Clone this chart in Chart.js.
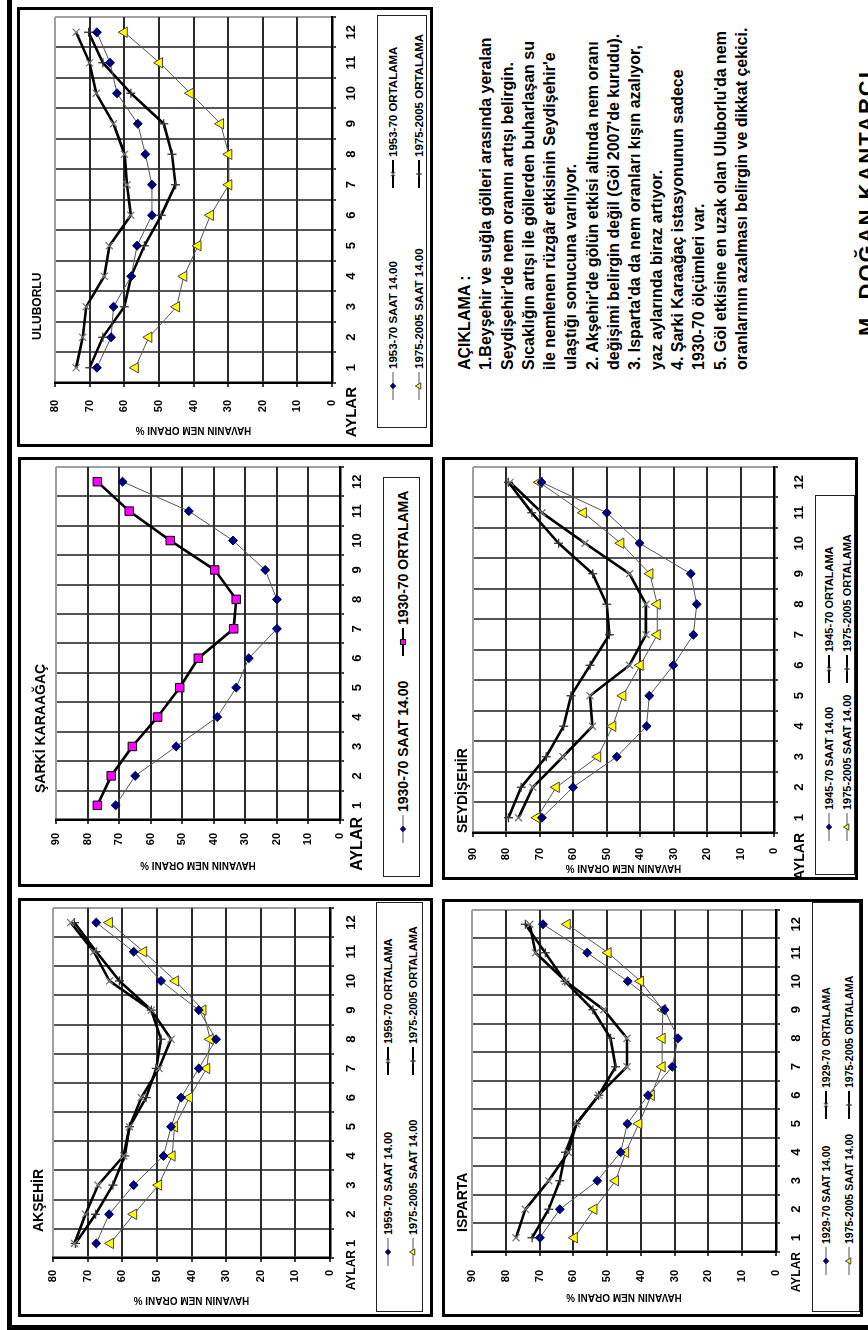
<!DOCTYPE html>
<html lang="tr">
<head>
<meta charset="utf-8">
<title>Havanın nem oranı – göl çevresi istasyonları</title>
<script src="https://cdn.jsdelivr.net/npm/chart.js@4.4.1/dist/chart.umd.min.js"></script>
<style>
  html, body { margin: 0; padding: 0; background: #fff; }
  body { width: 868px; height: 1330px; overflow: hidden; position: relative; }
  /* the sheet is laid out in landscape and turned a quarter turn to the left */
  #page {
    position: absolute; left: 0; top: 0; width: 1330px; height: 868px;
    transform-origin: 0 0; transform: translate(0, 1330px) rotate(-90deg);
    font-family: 'Liberation Sans', Arial, Helvetica, sans-serif; color: #000;
    overflow: hidden; background: #fff;
  }
  .frame { position: absolute; box-sizing: border-box; border-style: solid; border-color: #000;
           border-width: 5px 0 0 5px; }
  .panel { position: absolute; box-sizing: border-box; border: 3px solid #000; background: #fff; }
  canvas.chart { position: absolute; }
  .st { position: absolute; font-weight: bold; white-space: nowrap; line-height: 1; transform: translateY(-50%); }
  .legend { position: absolute; box-sizing: border-box; border: 1px solid #222; background: #fff; }
  .li { position: absolute; display: flex; align-items: center; white-space: nowrap; font-weight: bold; transform: translateY(-50%); }
  .li canvas { display: block; margin-right: 3px; }
  .notes { position: absolute; font-weight: bold; white-space: pre; }
  .sign { position: absolute; font-weight: bold; white-space: nowrap; line-height: 1; }
</style>
</head>
<body>
<div id="page"></div>
<script>
// ---- shared axis text ----
const months = ['1', '2', '3', '4', '5', '6', '7', '8', '9', '10', '11', '12'];
const yAxisTitle = 'HAVANIN NEM ORANI %';
const xAxisName = 'AYLAR';

// ---- Akşehir (relative humidity, %) ----
const aksehirSaat1 = [67.5, 63.8, 56.7, 48.1, 45.9, 43.0, 37.9, 32.9, 37.9, 48.8, 56.7, 67.5];
const aksehirOrt1  = [73.8, 70.6, 67.0, 59.6, 57.9, 54.5, 49.4, 45.9, 51.6, 63.7, 68.2, 74.9];
const aksehirSaat2 = [63.4, 56.7, 49.5, 45.6, 44.9, 40.6, 35.6, 34.6, 36.7, 44.6, 53.8, 63.7];
const aksehirOrt2  = [73.5, 67.7, 62.7, 59.3, 57.9, 53.1, 50.2, 48.8, 51.6, 60.8, 67.5, 73.8];

// ---- Şarki Karaağaç ----
const sarkiSaat = [71.1, 64.9, 51.9, 38.9, 32.9, 28.9, 20.0, 20.0, 23.7, 33.9, 47.9, 68.9];
const sarkiOrt  = [76.9, 72.5, 65.8, 57.8, 50.8, 44.9, 33.7, 32.9, 39.7, 53.8, 66.8, 76.9];

// ---- Uluborlu ----
const uluborluSaat1 = [67.9, 63.8, 63.1, 58.0, 56.3, 52.0, 52.0, 53.9, 56.1, 62.1, 64.1, 67.9];
const uluborluOrt1  = [73.9, 72.0, 71.0, 65.8, 64.3, 58.1, 59.2, 59.9, 63.1, 68.1, 70.0, 73.9];
const uluborluSaat2 = [56.8, 52.9, 44.9, 42.8, 38.7, 35.1, 29.8, 29.8, 32.2, 40.9, 49.8, 60.0];
const uluborluOrt2  = [70.0, 66.2, 60.0, 58.0, 54.2, 49.3, 45.2, 46.2, 48.6, 58.1, 66.2, 70.3];

// ---- Isparta ----
const ispartaSaat1 = [69.9, 64.0, 52.9, 46.0, 44.0, 37.9, 30.7, 29.0, 33.0, 43.9, 55.9, 69.0];
const ispartaOrt1  = [77.0, 74.2, 67.3, 61.5, 59.1, 52.5, 44.1, 44.1, 51.0, 62.3, 71.2, 72.9];
const ispartaSaat2 = [59.7, 53.9, 47.5, 44.5, 40.6, 36.9, 33.7, 33.7, 33.5, 40.1, 49.7, 61.8];
const ispartaOrt2  = [72.2, 67.3, 64.0, 62.3, 59.1, 52.5, 47.5, 49.0, 54.2, 62.5, 68.3, 74.2];

// ---- Seydişehir ----
const seydisehirSaat1 = [69.4, 60.1, 47.0, 38.1, 37.3, 30.1, 24.1, 23.1, 24.9, 40.2, 50.0, 69.5];
const seydisehirOrt1  = [76.4, 72.1, 63.1, 54.3, 55.0, 43.2, 38.3, 38.3, 43.2, 56.5, 69.4, 78.9];
const seydisehirSaat2 = [70.9, 65.1, 52.7, 48.2, 45.2, 40.0, 34.9, 34.9, 37.1, 45.8, 57.0, 70.2];
const seydisehirOrt2  = [79.4, 75.6, 68.1, 62.9, 60.7, 55.0, 49.2, 50.0, 54.2, 64.4, 72.4, 79.4];

// ---- explanatory notes ----
const noteLines = [
  'AÇIKLAMA :',
  '1.Beyşehir ve suğla gölleri arasında yeralan',
  "Seydişehir'de nem oranını artışı belirgin.",
  'Sıcaklığın artışı ile göllerden buharlaşan su',
  "ile nemlenen rüzgâr etkisinin Seydişehir'e",
  'ulaştığı sonucuna varılıyor.',
  "2. Akşehir'de gölün etkisi altında nem oranı",
  "değişimi belirgin değil (Göl 2007'de kurudu).",
  "3. Isparta'da da nem oranları kışın azalıyor,",
  'yaz aylarında biraz artıyor.',
  '4. Şarki Karaağaç istasyonunun sadece',
  '1930-70 ölçümleri var.',
  "5. Göl etkisine en uzak olan Uluborlu'da nem",
  'oranlarının azalması belirgin ve dikkat çekici.'
];
const signature = 'M. DOĞAN KANTARCI';

// ---- series looks ----
const FONT = "'Liberation Sans', Arial, Helvetica, sans-serif";
const looks = {
  diamond:  { borderColor: '#555', borderWidth: 1, pointStyle: 'rectRot', pointRadius: 4.5,
              pointBackgroundColor: '#000080', pointBorderColor: '#000060', pointBorderWidth: 1 },
  xcross:   { borderColor: '#000', borderWidth: 2.6, pointStyle: 'crossRot', pointRadius: 5,
              pointBackgroundColor: '#fff', pointBorderColor: '#777', pointBorderWidth: 1.3 },
  triangle: { borderColor: '#555', borderWidth: 1, pointStyle: 'triangle', pointRadius: 6,
              pointBackgroundColor: '#ffff00', pointBorderColor: '#444', pointBorderWidth: 1 },
  plus:     { borderColor: '#000', borderWidth: 2.6, pointStyle: 'cross', pointRadius: 4.5,
              pointBackgroundColor: '#fff', pointBorderColor: '#333', pointBorderWidth: 1.3 },
  square:   { borderColor: '#000', borderWidth: 2.6, pointStyle: 'rect', pointRadius: 6,
              pointBackgroundColor: '#ff00ff', pointBorderColor: '#000', pointBorderWidth: 1 }
};

// ---- stations: series + where each panel sits on the sheet ----
const stations = [
  { name: 'AKŞEHİR', max: 80,
    series: [
      { label: '1959-70 SAAT 14.00',   data: aksehirSaat1, look: 'diamond' },
      { label: '1959-70 ORTALAMA',     data: aksehirOrt1,  look: 'xcross' },
      { label: '1975-2005 SAAT 14.00', data: aksehirSaat2, look: 'triangle' },
      { label: '1975-2005 ORTALAMA',   data: aksehirOrt2,  look: 'plus' }
    ],
    box: { panel: [13, 18, 432, 433], plot: [72, 53, 422, 330], legend: [18, 376, 428, 423],
           title: [98, 38, 14], yTitleX: 30, yPad: 8, xPad: 10, aylar: [8, 12],
           rows: [11, 36], cols: [59, 250], legendFont: 11 } },
  { name: 'ŞARKİ  KARAAĞAÇ', max: 90,
    series: [
      { label: '1930-70  SAAT 14.00', data: sarkiSaat, look: 'diamond' },
      { label: '1930-70  ORTALAMA',   data: sarkiOrt,  look: 'square' }
    ],
    box: { panel: [443, 18, 873, 433], plot: [510, 56, 865, 340], legend: [453, 383, 853, 420],
           title: [537, 40, 14], yTitleX: 465, yPad: 9, xPad: 6, aylar: [3, 16],
           rows: [19], cols: [47, 234], legendFont: 14 } },
  { name: 'ULUBORLU', max: 80,
    series: [
      { label: '1953-70 SAAT 14.00',   data: uluborluSaat1, look: 'diamond' },
      { label: '1953-70 ORTALAMA',     data: uluborluOrt1,  look: 'xcross' },
      { label: '1975-2005 SAAT 14.00', data: uluborluSaat2, look: 'triangle' },
      { label: '1975-2005 ORTALAMA',   data: uluborluOrt2,  look: 'plus' }
    ],
    box: { panel: [883, 17, 1323, 433], plot: [947, 55, 1317, 332], legend: [902, 377, 1315, 427],
           title: [990, 37, 12], yTitleX: 900, yPad: 13, xPad: 8, aylar: [-4, 15],
           rows: [15, 41], cols: [41, 253], legendFont: 11.5 } },
  { name: 'ISPARTA', max: 90,
    series: [
      { label: '1929-70 SAAT 14.00',   data: ispartaSaat1, look: 'diamond' },
      { label: '1929-70 ORTALAMA',     data: ispartaOrt1,  look: 'xcross' },
      { label: '1975-2005 SAAT 14.00', data: ispartaSaat2, look: 'triangle' },
      { label: '1975-2005 ORTALAMA',   data: ispartaOrt2,  look: 'plus' }
    ],
    box: { panel: [13, 442, 431, 863], plot: [78, 472, 420, 776], legend: [18, 812, 428, 860],
           title: [98, 462, 14], yTitleX: 33, yPad: 14, xPad: 9, aylar: [0, 12],
           rows: [13, 36], cols: [50, 206], legendFont: 10.5 } },
  { name: 'SEYDİŞEHİR', max: 90,
    series: [
      { label: '1945-70 SAAT 14.00',   data: seydisehirSaat1, look: 'diamond' },
      { label: '1945-70 ORTALAMA',     data: seydisehirOrt1,  look: 'xcross' },
      { label: '1975-2005 SAAT 14.00', data: seydisehirSaat2, look: 'triangle' },
      { label: '1975-2005 ORTALAMA',   data: seydisehirOrt2,  look: 'plus' }
    ],
    box: { panel: [450, 442, 873, 858], plot: [497, 473, 867, 774], legend: [455, 815, 835, 855],
           title: [497, 462, 14], yTitleX: 462, yPad: 11, xPad: 14, aylar: [0, 14],
           rows: [13, 31], cols: [47, 205], legendFont: 11 } }
];

Chart.defaults.font.family = FONT;
Chart.defaults.color = '#000';

const page = document.getElementById('page');

function place(el, r) {
  el.style.left = r[0] + 'px';
  el.style.top = r[1] + 'px';
  el.style.width = (r[2] - r[0]) + 'px';
  el.style.height = (r[3] - r[1]) + 'px';
}

// "AYLAR" sits on the month-label row, just left of month 1
const aylarPlugin = {
  id: 'aylar',
  afterDraw(chart, args, opts) {
    const xs = chart.scales.x;
    const ctx = chart.ctx;
    const tickFont = xs.options.ticks.font;
    const y = xs.top + xs.options.grid.tickLength + xs.options.ticks.padding + tickFont.size * 0.62;
    ctx.save();
    ctx.font = 'bold ' + opts.size + 'px ' + FONT;
    ctx.fillStyle = '#000';
    ctx.textAlign = 'right';
    ctx.textBaseline = 'middle';
    ctx.fillText(opts.text, chart.chartArea.left + opts.dx, y);
    ctx.restore();
  }
};

function legendMarker(ds) {
  const c = document.createElement('canvas');
  c.width = 28; c.height = 14;
  const g = c.getContext('2d');
  g.strokeStyle = ds.borderColor;
  g.lineWidth = Math.min(ds.borderWidth, 2);
  g.beginPath(); g.moveTo(0, 7); g.lineTo(28, 7); g.stroke();
  g.fillStyle = ds.pointBackgroundColor;
  g.strokeStyle = ds.pointBorderColor;
  g.lineWidth = ds.pointBorderWidth;
  try {
    Chart.helpers.drawPoint(g, { pointStyle: ds.pointStyle, radius: ds.pointRadius * 0.6,
                                 borderWidth: ds.pointBorderWidth, rotation: 0 }, 14, 7);
  } catch (e) { /* marker is optional */ }
  return c;
}

function drawStation(st) {
  const b = st.box;

  const panel = document.createElement('div');
  panel.className = 'panel';
  place(panel, b.panel);
  page.appendChild(panel);

  // chart canvas: panel interior above the legend
  const cL = b.panel[0] + 3, cT = b.panel[1] + 3, cR = b.panel[2] - 3, cB = b.legend[1] - 2;
  const cv = document.createElement('canvas');
  cv.className = 'chart';
  cv.width = cR - cL; cv.height = cB - cT;
  cv.style.left = cL + 'px'; cv.style.top = cT + 'px';
  cv.style.width = cv.width + 'px'; cv.style.height = cv.height + 'px';
  page.appendChild(cv);

  const yAxisWidth = b.plot[0] - cL;
  const xAxisHeight = cB - b.plot[3];
  const titleSize = 10;
  const titleCenter = b.yTitleX - cL;

  const datasets = st.series.map(s => Object.assign({
    label: s.label, data: s.data, fill: false, tension: 0, pointHoverRadius: 0
  }, looks[s.look]));

  const chart = new Chart(cv, {
    type: 'line',
    data: { labels: months, datasets },
    options: {
      responsive: false, maintainAspectRatio: false, animation: false, devicePixelRatio: 1,
      events: [],
      layout: { padding: { top: b.plot[1] - cT, right: cR - b.plot[2], left: 0, bottom: 0 } },
      plugins: {
        legend: { display: false },
        tooltip: { enabled: false },
        aylar: { text: xAxisName, dx: b.aylar[0], size: b.aylar[1] }
      },
      scales: {
        x: {
          type: 'category', offset: true,
          grid: { offset: true, lineWidth: 2, tickLength: 4, tickColor: '#000', tickWidth: 1.5,
                  color: c => (c.type === 'scale' ? '#a0a0a0' : '#555') },
          border: { color: '#000', width: 2.5 },
          ticks: { color: '#000', padding: b.xPad, maxRotation: 0, autoSkip: false,
                   font: { size: 13, weight: 'bold', family: FONT } },
          afterFit: s => { s.height = xAxisHeight; }
        },
        y: {
          min: 0, max: st.max,
          grid: { lineWidth: 2, tickLength: 4, tickColor: '#000', tickWidth: 1.5,
                  color: c => (c.tick && c.tick.value === st.max ? '#a0a0a0' : '#2a2a2a') },
          border: { color: '#000', width: 2.5 },
          ticks: { stepSize: 10, color: '#000', padding: b.yPad,
                   font: { size: 11, weight: 'bold', family: FONT } },
          title: { display: true, text: yAxisTitle, color: '#000',
                   font: { size: titleSize, weight: 'bold', family: FONT },
                   padding: { top: titleCenter - titleSize * 0.6, bottom: 0 } },
          afterFit: s => { s.width = yAxisWidth; }
        }
      }
    },
    plugins: [aylarPlugin]
  });

  // station name
  const t = document.createElement('div');
  t.className = 'st';
  t.textContent = st.name;
  t.style.left = b.title[0] + 'px';
  t.style.top = b.title[1] + 'px';
  t.style.fontSize = b.title[2] + 'px';
  page.appendChild(t);

  // legend, two entries per row, built from the chart's datasets
  const lg = document.createElement('div');
  lg.className = 'legend';
  place(lg, b.legend);
  chart.data.datasets.forEach((ds, i) => {
    const item = document.createElement('div');
    item.className = 'li';
    item.style.left = (b.cols[i % 2] - 14) + 'px';
    item.style.top = b.rows[Math.floor(i / 2)] + 'px';
    item.style.fontSize = b.legendFont + 'px';
    item.appendChild(legendMarker(ds));
    const span = document.createElement('span');
    span.textContent = ds.label;
    item.appendChild(span);
    lg.appendChild(item);
  });
  page.appendChild(lg);
}

// page frame (top and left rules of the sheet)
const frame = document.createElement('div');
frame.className = 'frame';
place(frame, [0, 7, 1330, 900]);
page.appendChild(frame);

stations.forEach(drawStation);

// notes block
const notes = document.createElement('div');
notes.className = 'notes';
notes.style.left = '960px';
notes.style.top = '454px';
notes.style.fontSize = '16px';
notes.style.lineHeight = '21.3px';
notes.textContent = noteLines.join('\n');
page.appendChild(notes);

const sign = document.createElement('div');
sign.className = 'sign';
sign.textContent = signature;
sign.style.left = '994px';
sign.style.top = '856px';
sign.style.fontSize = '22px';
sign.style.letterSpacing = '2px';
page.appendChild(sign);
</script>
</body>
</html>
